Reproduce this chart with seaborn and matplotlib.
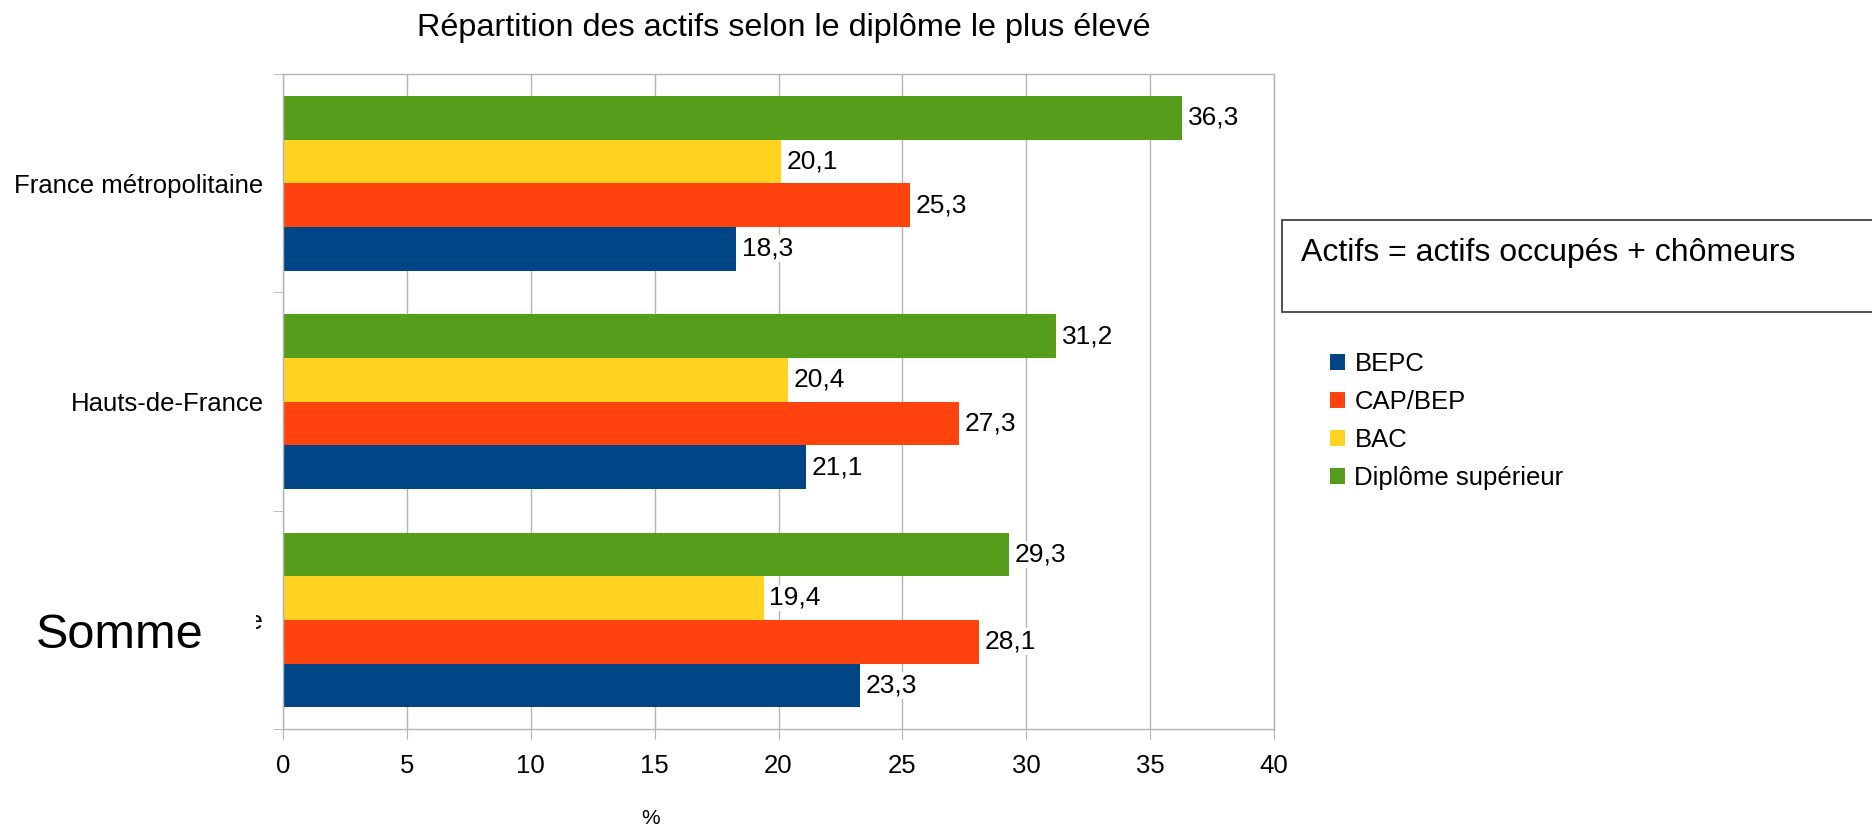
import matplotlib
matplotlib.use("Agg")
import matplotlib.pyplot as plt
from matplotlib.patches import Patch, Rectangle
import seaborn as sns
import pandas as pd

categories = ["France métropolitaine", "Hauts-de-France", "Somme"]
bepc = [18.3, 21.1, 23.3]
cap_bep = [25.3, 27.3, 28.1]
bac = [20.1, 20.4, 19.4]
sup = [36.3, 31.2, 29.3]
series_names = ["BEPC", "CAP/BEP", "BAC", "Diplôme supérieur"]
colors = {"BEPC": "#004586", "CAP/BEP": "#ff420e", "BAC": "#ffd320", "Diplôme supérieur": "#579d1c"}
xticks = [0, 5, 10, 15, 20, 25, 30, 35, 40]

rows = []
for name, vals in zip(series_names, [bepc, cap_bep, bac, sup]):
    for c, v in zip(categories, vals):
        rows.append({"cat": c, "serie": name, "val": v})
df = pd.DataFrame(rows)

sns.set_style("white")
plt.rcParams["font.family"] = ["Liberation Sans", "DejaVu Sans"]
plt.rcParams["text.color"] = "black"
plt.rcParams["xtick.color"] = "black"
plt.rcParams["ytick.color"] = "black"
plt.rcParams["xtick.labelcolor"] = "black"
plt.rcParams["ytick.labelcolor"] = "black"

W, H = 1872, 826
fig = plt.figure(figsize=(W / 100, H / 100), dpi=100)
ax = fig.add_axes([283 / W, 1 - 729 / H, (1274 - 283) / W, (729 - 74) / H])

hue_order = ["Diplôme supérieur", "BAC", "CAP/BEP", "BEPC"]
sns.barplot(data=df, y="cat", x="val", hue="serie", hue_order=hue_order,
            order=categories, palette=colors, orient="h", width=0.8,
            saturation=1, ax=ax, legend=False, zorder=2,
            edgecolor="none", linewidth=0)

for cont in ax.containers:
    labels = [f"{b.get_width():.1f}".replace(".", ",") for b in cont]
    ax.bar_label(cont, labels=labels, padding=4, fontsize=19, color="black",
                 bbox=dict(facecolor="white", edgecolor="none", pad=1))

ax.set_xlim(0, 40)
ax.set_ylim(2.5, -0.5)
ax.set_xticks(xticks)
ax.set_xticklabels([str(t) for t in xticks], fontsize=18.5)
ax.xaxis.grid(True, color="#b3b3b3", lw=1, zorder=0)
ax.set_axisbelow(True)
ax.tick_params(axis="x", length=7, color="#b3b3b3", pad=11, direction="out", bottom=True)
ax.set_yticks(range(len(categories)))
ax.set_yticklabels(categories, fontsize=18.5)
ax.tick_params(axis="y", which="major", length=0, pad=14)
ax.set_yticks([-0.5, 0.5, 1.5, 2.5], minor=True)
ax.tick_params(axis="y", which="minor", length=7, color="#b3b3b3", direction="out", left=True)
ax.set_xlabel("")
ax.set_ylabel("")
for s in ax.spines.values():
    s.set_color("#b3b3b3")
    s.set_linewidth(1)

fig.text(784 / W, 1 - 28 / H, "Répartition des actifs selon le diplôme le plus élevé",
         ha="center", va="center", fontsize=23.3)
fig.text(651 / W, 1 - 819 / H, "%", ha="center", va="center", fontsize=15)

# cover over the third label and big "Somme" text
fig.patches.append(Rectangle((0, 1 - 680 / H), 256 / W, 90 / H, transform=fig.transFigure,
                             facecolor="white", edgecolor="none", zorder=5))
fig.text(36 / W, 1 - 635 / H, "Somme", ha="left", va="center", fontsize=35, zorder=6)

# note box
fig.patches.append(Rectangle((1282 / W, 1 - 312 / H), 700 / W, 92 / H, transform=fig.transFigure,
                             facecolor="white", edgecolor="#333333", lw=1.2, zorder=3))
fig.text(1301 / W, 1 - 253 / H, "Actifs = actifs occupés + chômeurs", ha="left", va="center",
         fontsize=23, zorder=4)

handles = [Patch(facecolor=colors[n], edgecolor="none") for n in series_names]
fig.legend(handles, series_names, loc="upper left", bbox_to_anchor=(1330 / W, 1 - 352 / H),
           frameon=False, fontsize=18.5, handlelength=0.6, handleheight=0.6,
           handletextpad=0.35, labelspacing=0.55, borderaxespad=0, borderpad=0)

fig.savefig("out.png", dpi=100)
